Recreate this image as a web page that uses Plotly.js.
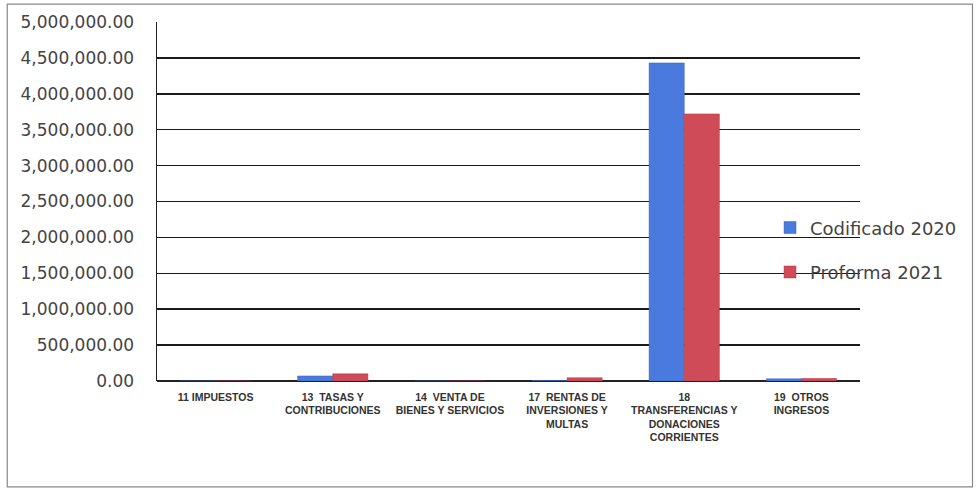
<!DOCTYPE html>
<html>
<head>
<meta charset="utf-8">
<script src="https://cdn.plot.ly/plotly-3.0.1.min.js"></script>
<style>html,body{margin:0;padding:0;background:#fff;}#chart{width:978px;height:491px;}</style>
</head>
<body>
<div id="chart"></div>
<script>
var categories = [
  "11 IMPUESTOS",
  "13  TASAS Y<br>CONTRIBUCIONES",
  "14  VENTA DE<br>BIENES Y SERVICIOS",
  "17  RENTAS DE<br>INVERSIONES Y<br>MULTAS",
  "18<br>TRANSFERENCIAS Y<br>DONACIONES<br>CORRIENTES",
  "19  OTROS<br>INGRESOS"
];
var codificado2020 = [0, 70000, 0, 8000, 4430000, 30000];
var proforma2021 = [0, 100000, 0, 45000, 3720000, 35000];
var tickValues = [0, 500000, 1000000, 1500000, 2000000, 2500000, 3000000, 3500000, 4000000, 4500000, 5000000];

var traces = [
  {type: 'bar', name: 'Codificado 2020', legendgroup: 'a', x: categories, y: codificado2020,
   marker: {color: '#4a7ade', line: {color: '#3a62b8', width: 0.5}}},
  {type: 'bar', name: 'Proforma 2021', legendgroup: 'b', x: categories, y: proforma2021,
   marker: {color: '#d04b58', line: {color: '#a83a46', width: 0.5}}}
];

var layout = {
  width: 978, height: 491,
  margin: {l: 157, r: 118, t: 22, b: 110},
  paper_bgcolor: '#ffffff', plot_bgcolor: '#ffffff',
  barmode: 'group', bargap: 0.4, bargroupgap: 0,
  font: {family: 'Liberation Sans, Arial, sans-serif', color: '#444'},
  xaxis: {
    type: 'category',
    tickfont: {family: 'Liberation Sans Narrow, Arial Narrow, Liberation Sans, sans-serif', size: 10.5, color: '#333', weight: 'bold'},
    tickangle: 0, showline: false, ticks: '', showgrid: false,
    ticklabelstandoff: 8
  },
  yaxis: {
    range: [0, 5000000], tickvals: tickValues, tickformat: ',.2f',
    tickfont: {family: 'DejaVu Sans, sans-serif', size: 17, color: '#444'},
    ticklabelstandoff: 18,
    showgrid: true, gridcolor: '#1a1a1a', gridwidth: 1.5,
    showline: true, linecolor: '#222', linewidth: 1.5,
    zeroline: true, zerolinecolor: '#222', zerolinewidth: 1.5, ticks: ''
  },
  legend: {
    x: 0.872, y: 0.478, xanchor: 'left', yanchor: 'top',
    font: {family: 'DejaVu Sans, sans-serif', size: 18, color: '#444'},
    bgcolor: 'rgba(255,255,255,0)', tracegroupgap: 18, itemwidth: 30
  },
  shapes: [
    {type: 'rect', xref: 'paper', yref: 'paper', x0: -0.213, x1: 1.16, y0: -0.295, y1: 1.05,
     line: {color: '#888', width: 1.2}}
  ]
};

Plotly.newPlot('chart', traces, layout, {displayModeBar: false, staticPlot: true});
</script>
</body>
</html>
